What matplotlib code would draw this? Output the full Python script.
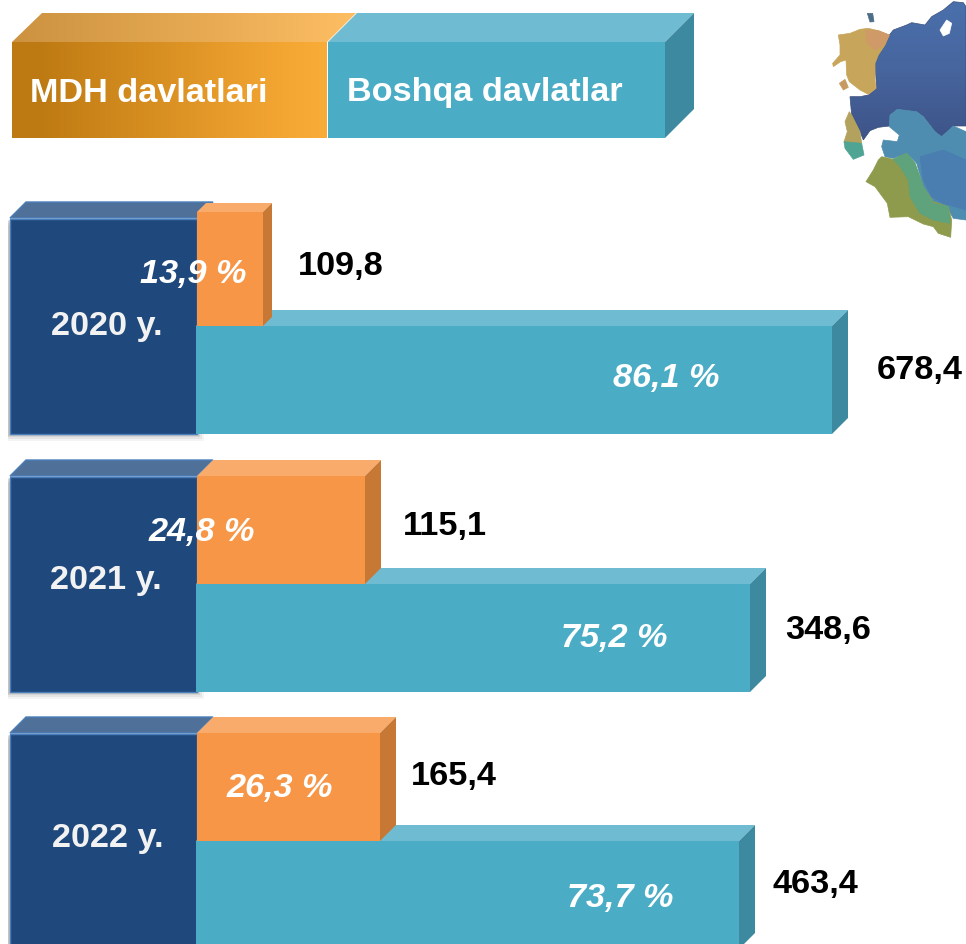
import numpy as np
import matplotlib
matplotlib.use("Agg")
import matplotlib.pyplot as plt
from matplotlib.patches import Polygon, Rectangle
from matplotlib.colors import LinearSegmentedColormap

plt.rcParams['font.family'] = ['Liberation Sans', 'DejaVu Sans']

# ---- data ----
years = ["2020 y.", "2021 y.", "2022 y."]
legend_names = ["MDH davlatlari", "Boshqa davlatlar"]
mdh_values = ["109,8", "115,1", "165,4"]
other_values = ["678,4", "348,6", "463,4"]
mdh_share = ["13,9 %", "24,8 %", "26,3 %"]
other_share = ["86,1 %", "75,2 %", "73,7 %"]
# the source bars are not to scale, so drawn lengths are read from the picture
mdh_length = [66, 168, 183]
other_length = [635, 553, 542]

# ---- layout (pixel-like data units) ----
W, H = 966, 944
TOP = [218, 476, 733]
BAR_H = 108
X0 = 197
DARK_L = 10
DEPTH = [9, 16, 16]
ORANGE_TOP_Y = [212, 476, 733]
mdh_val_xy = [(341, 267), (445, 526), (454, 776)]
oth_val_xy = [(920, 370), (828, 630), (815, 884)]
mdh_pct_xy = [(193, 274), (202, 533), (280, 788)]
oth_pct_xy = [(666, 379), (614, 639), (620, 898)]
year_xy = [(107, 326), (106, 581), (108, 839)]
FS = 24.7

NAVY, NAVY_TOP, NAVY_EDGE = "#1F497D", "#4F7098", "#4A7EBB"
ORANGE, ORANGE_TOP, ORANGE_SIDE = "#F79646", "#F9AB6B", "#C77834"
TEAL, TEAL_TOP, TEAL_SIDE = "#4BACC6", "#6FBBD2", "#3C89A0"

fig = plt.figure(figsize=(W / 100, H / 100), dpi=100)
ax = fig.add_axes([0, 0, 1, 1])
ax.axis("off")


def box3d(x, y, w, h, d, front, top, side, z=2):
    ax.add_patch(Polygon([(x, y), (x + d, y - d), (x + w + d, y - d), (x + w, y)],
                         fc=top, ec="none", zorder=z))
    ax.add_patch(Polygon([(x + w, y), (x + w + d, y - d), (x + w + d, y + h - d), (x + w, y + h)],
                         fc=side, ec="none", zorder=z))
    ax.add_patch(Rectangle((x, y), w, h, fc=front, ec="none", zorder=z + 0.1))


# ---- legend ----
grad = LinearSegmentedColormap.from_list(
    "o", [(0, "#BE7A12"), (0.1, "#BF7B13"), (0.88, "#F5A733"), (1, "#F9AC38")])
grad_top = LinearSegmentedColormap.from_list("ot", ["#CC9240", "#FDBE63"])
g = np.linspace(0, 1, 256).reshape(1, -1)
ax.imshow(g, extent=(12, 327, 138, 42), cmap=grad, aspect="auto", zorder=2)
top_poly = Polygon([(12, 42), (42, 13), (356, 13), (327, 42)], fc="none", ec="none", zorder=2)
ax.add_patch(top_poly)
im2 = ax.imshow(g, extent=(12, 356, 42, 13), cmap=grad_top, aspect="auto", zorder=2)
im2.set_clip_path(top_poly)
box3d(328, 42, 337, 96, 29, TEAL, TEAL_TOP, TEAL_SIDE, z=2.2)
ax.text(149, 93, legend_names[0], color="white", fontsize=FS, fontweight="bold",
        ha="center", va="center", zorder=6)
ax.text(485, 92, legend_names[1], color="white", fontsize=FS, fontweight="bold",
        ha="center", va="center", zorder=6)


# ---- map decoration ----
def mp(pts):
    return [(810 + px / 3, py / 3) for px, py in pts]


blue_pts = [(238, 105), (250, 90), (290, 75), (305, 68), (345, 75), (365, 50), (400, 30), (430, 5),
            (460, 8), (468, 20), (468, 378), (430, 378), (395, 410), (375, 395), (340, 350),
            (320, 335), (262, 328), (240, 345), (238, 378), (205, 382), (180, 392), (160, 420),
            (150, 395), (125, 345), (120, 290), (150, 290), (175, 285), (200, 265), (195, 190),
            (205, 165), (225, 135)]
blue_poly = Polygon(mp(blue_pts), fc="none", ec="#3A4F78", lw=0.5, zorder=2)
ax.add_patch(blue_poly)
blue_cmap = LinearSegmentedColormap.from_list("b", ["#4A70AC", "#47659E", "#3D5488"])
im3 = ax.imshow(np.linspace(0, 1, 128).reshape(-1, 1), extent=(810, 966, 140, 0),
                cmap=blue_cmap, aspect="auto", zorder=1.9)
im3.set_clip_path(blue_poly)

map_shapes = [
    ("#4E8DB0", [(240, 345), (262, 328), (320, 335), (340, 350), (375, 395), (395, 410), (430, 378),
                 (468, 395), (468, 660), (430, 655), (410, 620), (370, 605), (340, 560), (320, 490),
                 (290, 460), (250, 475), (225, 470), (215, 440), (220, 420), (262, 425), (268, 405),
                 (238, 380)]),
    ("#4A7DB0", [(330, 470), (400, 450), (468, 480), (468, 630), (400, 610), (365, 590), (340, 540)]),
    ("#8E9A4C", [(215, 470), (250, 478), (290, 460), (315, 490), (340, 560), (370, 605), (415, 620),
                 (425, 660), (422, 712), (385, 700), (370, 680), (340, 672), (295, 650), (240, 652),
                 (232, 610), (195, 560), (168, 545), (190, 510), (205, 480)]),
    ("#5FA37C", [(250, 478), (290, 460), (315, 490), (340, 560), (370, 610), (415, 620), (420, 670),
                 (370, 660), (330, 640), (300, 590), (295, 540), (270, 500)]),
    ("#C7A55A", [(85, 105), (120, 100), (150, 88), (175, 85), (205, 92), (238, 105), (225, 135),
                 (205, 165), (195, 190), (195, 240), (198, 265), (175, 283), (150, 270), (118, 245),
                 (110, 225), (108, 180), (92, 185), (70, 200), (68, 190), (90, 165), (90, 135)]),
    ("#D09A68", [(165, 92), (205, 92), (238, 105), (222, 135), (195, 150), (172, 130)]),
    ("#C79A62", [(88, 250), (105, 238), (115, 262), (100, 270)]),
    ("#B3A25E", [(118, 335), (125, 345), (150, 395), (155, 430), (110, 440), (102, 425), (112, 395),
                 (105, 365)]),
    ("#4FA494", [(102, 425), (155, 430), (162, 465), (130, 478), (105, 445)]),
    ("#4E6E88", [(172, 40), (188, 40), (192, 65), (180, 66)]),
    ("#FFFFFF", [(390, 90), (410, 60), (425, 70), (418, 100), (400, 108)]),
]
for col, pts in map_shapes:
    ax.add_patch(Polygon(mp(pts), fc=col, ec=col, lw=0.5, zorder=2))

# ---- bars ----
for i in range(3):
    top = TOP[i]
    y_teal = top + BAR_H
    # soft shadow of the navy block
    for a, s in zip([0.12, 0.10, 0.08, 0.06], [2, 3, 5, 7]):
        ax.add_patch(Rectangle((DARK_L - 2, top + s), X0 - DARK_L + 2 + s, 2 * BAR_H, fc="#444444",
                               alpha=a, ec="none", zorder=1))
    ax.add_patch(Polygon([(DARK_L, top), (DARK_L + 16, top - 16), (X0 + 16, top - 16), (X0, top)],
                         fc=NAVY_TOP, ec=NAVY_EDGE, lw=1, zorder=2))
    ax.barh(top + BAR_H, X0 - DARK_L, height=2 * BAR_H - 1, left=DARK_L, color=NAVY,
            edgecolor=NAVY_EDGE, linewidth=1, zorder=2.2)
    box3d(X0 - 1, y_teal, other_length[i] + 1, BAR_H, 16, TEAL, TEAL_TOP, TEAL_SIDE, z=3)
    y_o = ORANGE_TOP_Y[i]
    box3d(X0, y_o, mdh_length[i], y_teal - y_o, DEPTH[i], ORANGE, ORANGE_TOP, ORANGE_SIDE, z=3.5)

    ax.text(*year_xy[i], years[i], color="#F2F2F2", fontsize=FS, fontweight="bold",
            ha="center", va="center", zorder=6)
    ax.text(*mdh_pct_xy[i], mdh_share[i], color="white", fontsize=FS, fontweight="bold",
            style="italic", ha="center", va="center", zorder=6)
    ax.text(*oth_pct_xy[i], other_share[i], color="white", fontsize=FS, fontweight="bold",
            style="italic", ha="center", va="center", zorder=6)
    ax.text(*mdh_val_xy[i], mdh_values[i], color="black", fontsize=FS, fontweight="bold",
            ha="center", va="center", zorder=6)
    ax.text(*oth_val_xy[i], other_values[i], color="black", fontsize=FS, fontweight="bold",
            ha="center", va="center", zorder=6)

ax.set_xlim(0, W)
ax.set_ylim(H, 0)
fig.savefig("out.png", dpi=100)
